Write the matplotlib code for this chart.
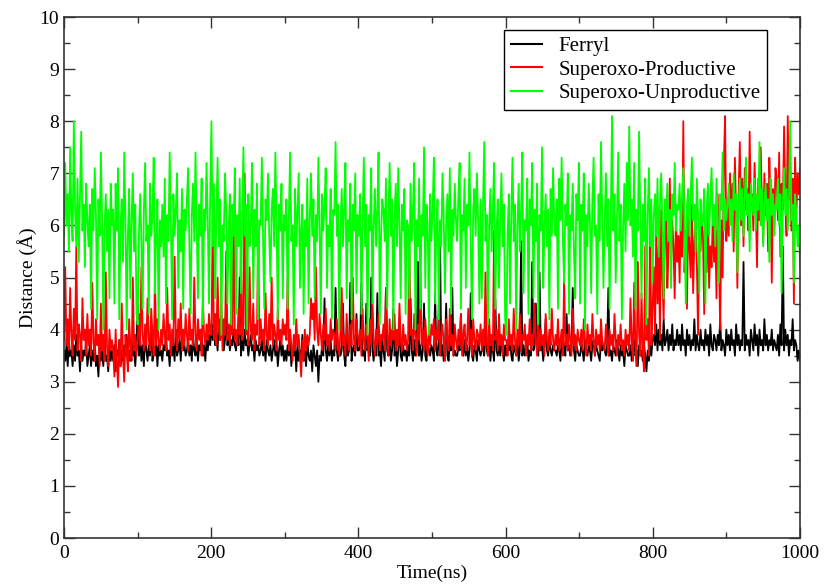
import numpy as np
import matplotlib
matplotlib.use("Agg")
import matplotlib.pyplot as plt
from matplotlib.ticker import MultipleLocator

plt.rcParams["font.family"] = ["Liberation Serif", "DejaVu Serif"]

# distance traces, 600 samples over 0-1000 ns
ferryl = [
    3.6, 3.4, 3.7, 3.3, 3.8, 3.5, 3.6, 3.3, 3.7, 3.4, 3.9, 3.5, 3.6, 3.2, 3.7, 3.4, 3.6, 3.5, 3.8, 3.3,
    3.5, 3.7, 3.3, 3.6, 3.4, 3.8, 3.3, 3.5, 3.1, 3.7, 3.4, 3.6, 3.3, 3.9, 3.4, 3.5, 3.2, 3.7, 3.4, 3.6,
    3.4, 3.7, 3.2, 3.6, 3.5, 3.8, 3.3, 3.6, 3.4, 3.7, 3.5, 3.9, 3.3, 3.6, 3.4, 3.8, 3.5, 3.6, 3.3, 3.7,
    4.5, 3.5, 3.8, 3.4, 3.7, 3.3, 4.0, 3.6, 3.4, 3.7, 3.5, 4.1, 3.4, 3.6, 3.5, 3.8, 3.3, 3.7, 3.5, 3.6,
    3.4, 3.7, 3.6, 3.9, 3.5, 3.6, 3.3, 3.8, 3.5, 3.7, 3.4, 4.0, 3.5, 3.6, 3.8, 3.4, 3.9, 3.6, 3.7, 3.5,
    3.6, 3.8, 3.5, 3.7, 3.4, 3.9, 3.6, 3.5, 3.8, 3.4, 3.7, 3.6, 4.0, 3.5, 3.7, 3.4, 3.8, 3.6, 3.9, 3.7,
    4.1, 3.8, 4.3, 3.7, 3.9, 3.6, 4.2, 3.8, 3.9, 4.0, 3.6, 3.8, 4.5, 3.7, 3.9, 3.6, 3.8, 3.7, 4.0, 3.7,
    3.6, 3.9, 3.7, 5.0, 3.5, 3.8, 3.6, 4.0, 3.7, 3.8, 3.5, 3.7, 3.9, 3.6, 3.7, 3.4, 3.8, 3.6, 3.7, 3.5,
    3.6, 3.8, 3.5, 3.7, 3.4, 3.8, 3.6, 3.5, 3.7, 3.4, 3.6, 3.8, 3.5, 3.7, 3.3, 3.6, 3.8, 3.5, 3.7, 3.4,
    3.6, 3.4, 3.7, 3.5, 3.8, 3.3, 3.6, 3.5, 3.7, 3.2, 3.7, 3.4, 3.6, 3.5, 3.9, 3.4, 3.6, 3.3, 3.8, 3.5,
    3.4, 3.6, 3.2, 3.7, 3.5, 3.3, 3.6, 3.0, 3.5, 3.4, 3.7, 3.5, 4.6, 3.6, 3.4, 3.7, 3.5, 3.8, 3.4, 3.6,
    3.5, 4.8, 3.6, 3.4, 3.7, 3.5, 3.6, 4.5, 3.5, 3.3, 3.8, 3.5, 3.6, 4.9, 3.4, 3.6, 3.7, 3.5, 4.3, 3.6,
    3.6, 3.7, 4.9, 3.5, 3.6, 3.4, 4.5, 3.6, 3.8, 3.5, 5.0, 3.6, 3.4, 3.7, 3.5, 4.7, 3.5, 3.6, 3.3, 3.8,
    3.6, 3.4, 4.8, 3.6, 3.5, 3.8, 3.4, 3.6, 4.4, 3.5, 3.7, 3.3, 3.6, 4.2, 3.5, 3.4, 3.7, 3.5, 3.6, 3.4,
    3.7, 3.5, 4.6, 3.6, 3.4, 3.8, 3.5, 3.6, 5.3, 3.5, 3.7, 3.4, 3.6, 4.5, 3.5, 3.4, 3.8, 3.6, 3.5, 3.7,
    3.6, 3.4, 4.7, 3.6, 3.5, 3.8, 5.8, 3.5, 3.7, 3.4, 3.6, 4.5, 3.5, 3.4, 3.8, 3.6, 4.8, 3.5, 3.6, 3.5,
    3.5, 3.7, 3.6, 4.3, 3.6, 3.5, 3.8, 3.5, 3.7, 3.4, 3.6, 4.7, 3.5, 3.4, 3.7, 3.6, 3.4, 3.8, 3.6, 3.5,
    3.6, 3.7, 3.5, 4.4, 3.6, 3.5, 3.8, 3.4, 3.7, 3.6, 3.4, 4.6, 3.6, 3.5, 3.7, 3.5, 3.8, 3.6, 3.4, 3.7,
    3.5, 3.7, 3.6, 3.9, 3.5, 3.4, 3.7, 3.6, 3.5, 3.8, 3.4, 3.6, 5.7, 3.5, 3.7, 3.5, 3.6, 3.8, 3.4, 3.6,
    3.5, 5.3, 3.6, 3.7, 4.5, 3.6, 3.5, 5.1, 3.6, 3.7, 3.4, 3.7, 4.2, 3.6, 3.5, 3.8, 3.6, 3.5, 3.7, 3.6,
    3.6, 3.5, 3.7, 3.6, 3.4, 3.8, 3.6, 3.7, 3.5, 4.3, 3.6, 3.7, 3.5, 3.6, 4.8, 3.6, 3.4, 3.7, 3.6, 3.5,
    3.5, 3.7, 3.6, 3.4, 3.8, 3.6, 3.5, 3.7, 3.6, 3.4, 3.7, 3.8, 3.5, 3.7, 3.6, 3.5, 3.4, 3.8, 3.6, 3.7,
    3.6, 3.5, 3.7, 4.8, 3.5, 3.6, 3.4, 3.7, 3.6, 3.5, 3.8, 3.6, 3.4, 3.7, 3.5, 3.6, 3.3, 3.7, 3.6, 3.5,
    3.5, 3.7, 3.4, 3.6, 3.8, 3.5, 3.6, 3.3, 3.7, 3.5, 3.6, 3.4, 3.7, 3.5, 3.2, 3.6, 3.4, 3.7, 3.5, 3.8,
    3.9, 3.7, 4.1, 3.6, 4.0, 3.7, 3.9, 3.6, 4.2, 3.7, 3.8, 4.0, 3.6, 3.9, 3.7, 4.1, 3.6, 3.8, 3.7, 4.0,
    3.7, 3.9, 3.6, 4.1, 3.7, 3.8, 3.5, 4.0, 3.7, 3.9, 3.6, 3.8, 3.7, 4.2, 3.6, 3.9, 3.7, 3.6, 4.0, 3.7,
    3.8, 3.6, 4.0, 3.7, 3.9, 3.5, 4.1, 3.7, 3.6, 3.9, 3.8, 3.6, 3.9, 3.7, 4.2, 3.6, 3.8, 3.7, 3.5, 4.0,
    3.7, 3.9, 3.6, 4.0, 3.7, 3.8, 3.5, 4.1, 3.7, 3.9, 3.6, 3.8, 3.7, 5.3, 3.6, 3.9, 3.7, 3.8, 3.5, 4.0,
    3.8, 3.6, 4.1, 3.7, 3.9, 3.5, 4.0, 3.7, 3.8, 3.6, 4.2, 3.7, 3.9, 3.6, 3.8, 3.7, 4.0, 3.6, 3.8, 3.7,
    3.6, 3.9, 3.5, 4.1, 3.7, 5.6, 3.6, 4.0, 3.7, 3.9, 3.5, 3.8, 3.7, 4.2, 3.6, 3.8, 3.7, 3.4, 3.6, 3.4,
]

productive = [
    3.8, 5.2, 3.7, 4.2, 3.6, 4.8, 3.9, 3.5, 4.4, 3.8, 5.6, 3.6, 4.1, 3.9, 3.4, 4.6, 3.8, 4.0, 3.5, 4.3,
    3.7, 4.0, 3.5, 4.9, 3.8, 3.4, 4.2, 3.7, 3.9, 3.3, 4.5, 3.6, 3.9, 3.4, 5.1, 3.7, 3.3, 4.0, 3.6, 3.8,
    3.6, 3.1, 4.0, 3.4, 2.9, 3.8, 3.3, 4.5, 3.5, 3.0, 3.9, 3.6, 3.2, 4.2, 3.7, 3.4, 5.0, 3.6, 3.9, 3.5,
    3.8, 4.3, 3.7, 5.2, 3.9, 3.6, 4.1, 3.7, 4.6, 3.8, 3.6, 4.4, 3.9, 3.5, 5.0, 3.7, 4.2, 3.8, 3.6, 4.0,
    3.7, 4.3, 3.9, 3.6, 4.8, 3.8, 4.1, 3.5, 4.0, 3.7, 5.4, 3.9, 3.6, 4.2, 3.8, 4.5, 3.6, 4.0, 3.7, 4.3,
    3.9, 3.6, 4.4, 3.8, 4.0, 3.7, 5.0, 3.9, 3.6, 4.2, 3.8, 4.0, 3.5, 4.6, 3.9, 3.7, 4.1, 3.8, 4.3, 3.9,
    3.9, 6.1, 3.8, 4.3, 3.7, 5.0, 4.0, 3.8, 4.6, 3.6, 4.2, 3.9, 5.5, 3.8, 4.1, 3.7, 4.4, 3.9, 6.4, 3.8,
    4.0, 3.7, 4.4, 3.9, 5.6, 3.8, 4.1, 7.0, 3.9, 4.3, 3.7, 5.2, 4.0, 3.8, 4.5, 3.6, 4.1, 3.9, 5.8, 3.7,
    4.2, 3.8, 4.0, 3.6, 4.7, 3.9, 3.7, 4.3, 3.8, 5.0, 3.7, 4.1, 3.9, 3.6, 4.4, 3.8, 4.0, 3.7, 4.2, 3.9,
    4.1, 3.8, 5.0, 3.6, 4.0, 3.7, 3.4, 3.9, 3.6, 4.2, 3.7, 3.9, 3.5, 3.1, 3.8, 3.4, 4.0, 3.6, 3.9, 3.7,
    3.9, 4.6, 4.2, 4.5, 3.8, 5.2, 4.0, 3.7, 4.3, 3.9, 3.6, 4.1, 3.8, 4.4, 3.7, 3.9, 3.6, 4.2, 3.8, 4.0,
    3.9, 3.6, 4.2, 3.8, 3.5, 4.0, 4.8, 3.7, 3.9, 3.5, 4.3, 3.8, 3.6, 4.1, 3.7, 5.0, 3.8, 3.6, 4.2, 3.9,
    3.7, 4.0, 3.5, 4.4, 3.8, 3.6, 4.1, 3.9, 3.4, 4.2, 3.7, 4.6, 3.8, 3.5, 4.0, 3.7, 4.3, 3.6, 3.9, 3.8,
    4.1, 3.6, 4.8, 3.9, 3.5, 4.2, 3.7, 4.0, 3.8, 4.3, 3.6, 4.0, 3.7, 4.5, 3.8, 3.6, 4.1, 3.7, 3.9, 3.6,
    3.8, 5.6, 3.9, 4.0, 3.6, 4.3, 3.9, 3.5, 4.1, 3.8, 5.1, 3.7, 4.0, 3.6, 4.2, 3.8, 3.5, 4.0, 3.7, 4.1,
    3.9, 4.2, 3.6, 4.0, 3.8, 4.5, 3.5, 3.9, 4.1, 3.7, 3.4, 4.2, 3.8, 3.6, 4.4, 3.7, 3.9, 3.5, 4.1, 3.8,
    3.6, 4.0, 3.7, 4.3, 3.5, 3.9, 4.1, 3.6, 3.8, 4.4, 3.7, 4.0, 3.5, 4.2, 3.8, 3.6, 4.0, 3.9, 3.7, 4.1,
    3.6, 4.0, 3.7, 5.1, 3.8, 3.5, 4.2, 3.7, 3.9, 3.6, 5.9, 3.8, 4.0, 3.6, 4.3, 3.7, 3.9, 3.5, 4.1, 3.8,
    3.8, 3.5, 4.2, 3.7, 3.9, 3.6, 4.4, 3.8, 3.5, 4.0, 3.7, 4.3, 3.6, 3.9, 3.8, 4.1, 3.5, 3.9, 3.7, 4.2,
    3.6, 3.9, 3.7, 4.5, 3.8, 3.5, 4.1, 3.6, 4.0, 3.7, 3.9, 3.5, 4.3, 3.8, 3.6, 4.0, 3.7, 4.4, 3.8, 3.6,
    3.9, 3.7, 4.2, 3.6, 3.8, 4.0, 3.5, 5.0, 3.7, 3.9, 3.6, 4.1, 3.8, 3.5, 4.4, 3.7, 3.9, 3.6, 4.0, 3.8,
    3.7, 4.0, 3.6, 4.2, 3.8, 3.5, 4.1, 3.7, 3.9, 3.6, 4.3, 3.8, 3.5, 4.0, 3.7, 3.9, 3.6, 4.2, 3.8, 3.7,
    3.6, 4.1, 3.8, 3.5, 4.0, 3.7, 3.9, 3.6, 4.3, 3.8, 3.5, 3.9, 3.7, 4.1, 3.6, 3.8, 3.5, 4.0, 3.7, 3.9,
    3.6, 4.6, 3.8, 3.4, 4.9, 3.7, 3.3, 5.3, 3.9, 3.5, 4.7, 3.6, 3.2, 5.6, 3.8, 4.2, 3.5, 6.1, 3.7, 4.4,
    5.2, 3.9, 6.0, 4.5, 5.6, 3.8, 6.3, 5.0, 4.2, 5.8, 6.5, 4.8, 5.5, 6.9, 5.2, 6.1, 5.6, 4.6, 6.2, 5.3,
    5.8, 4.9, 6.3, 5.4, 8.0, 5.1, 5.9, 4.4, 6.2, 5.6, 5.0, 6.4, 4.7, 5.7, 6.1, 5.3, 3.9, 5.9, 5.5, 6.2,
    5.8, 4.3, 6.0, 5.1, 6.4, 4.8, 5.6, 5.2, 6.2, 5.3, 5.9, 4.6, 6.6, 5.4, 4.0, 6.1, 5.0, 7.2, 8.1, 5.7,
    6.4, 5.8, 7.0, 6.1, 6.8, 5.5, 7.3, 6.2, 4.8, 6.6, 7.6, 6.0, 6.9, 5.6, 7.1, 6.3, 6.7, 5.9, 7.8, 6.4,
    6.6, 5.9, 7.2, 6.3, 5.2, 6.9, 6.1, 7.5, 6.4, 5.7, 7.0, 6.2, 6.8, 5.5, 7.3, 6.5, 4.9, 6.7, 6.0, 7.1,
    6.9, 6.1, 7.4, 5.4, 6.8, 6.3, 7.9, 6.6, 5.8, 8.1, 6.5, 7.2, 5.9, 6.9, 4.5, 7.3, 6.2, 7.0, 6.6, 7.1,
]

unproductive = [
    5.8, 7.2, 6.0, 6.6, 5.5, 7.5, 6.2, 5.7, 8.0, 6.3, 5.6, 6.9, 5.3, 6.5, 7.8, 5.9, 6.4, 5.2, 6.8, 6.1,
    5.6, 6.4, 4.4, 6.7, 5.9, 7.1, 6.2, 4.2, 6.5, 5.8, 7.4, 6.1, 4.0, 6.0, 6.6, 5.5, 6.3, 4.6, 6.8, 6.0,
    6.3, 4.5, 6.8, 5.9, 7.1, 4.2, 6.0, 6.5, 5.3, 7.4, 6.2, 4.0, 5.8, 6.7, 4.6, 6.1, 7.0, 5.5, 6.4, 4.3,
    4.1, 5.9, 6.6, 5.7, 4.4, 6.3, 7.2, 5.7, 6.0, 4.3, 6.8, 5.8, 6.2, 7.3, 4.7, 5.8, 6.5, 4.0, 6.1, 5.6,
    6.4, 5.4, 6.9, 4.5, 6.2, 5.7, 7.4, 6.0, 4.2, 6.6, 5.8, 6.3, 7.0, 4.8, 6.1, 5.5, 6.7, 4.4, 6.3, 5.9,
    6.5, 7.1, 5.6, 4.3, 6.2, 6.8, 5.7, 7.4, 6.0, 4.6, 6.4, 5.8, 6.9, 4.1, 6.3, 5.9, 7.2, 6.1, 4.5, 6.6,
    8.0, 5.6, 6.8, 4.6, 6.2, 7.3, 5.6, 6.5, 3.9, 6.0, 5.7, 7.0, 6.3, 4.5, 5.9, 6.6, 4.1, 6.4, 5.8, 7.1,
    4.3, 6.2, 5.6, 6.9, 4.7, 6.1, 7.5, 5.8, 6.4, 4.0, 6.6, 5.6, 6.0, 7.2, 4.6, 6.3, 5.6, 6.8, 4.2, 6.1,
    6.0, 7.3, 5.7, 4.4, 6.5, 6.1, 7.0, 5.8, 4.9, 6.3, 6.7, 5.6, 7.4, 6.0, 4.2, 6.4, 5.9, 6.8, 4.6, 6.2,
    5.9, 6.5, 4.4, 6.2, 7.4, 5.7, 6.0, 4.1, 6.7, 5.6, 6.3, 7.0, 4.8, 5.9, 6.4, 4.3, 6.1, 5.6, 6.9, 4.5,
    6.1, 7.0, 5.8, 6.5, 4.6, 6.2, 5.7, 7.3, 6.0, 4.3, 6.6, 5.9, 6.4, 7.1, 4.8, 6.0, 5.6, 6.7, 4.2, 6.3,
    6.2, 7.6, 5.8, 6.4, 4.0, 6.0, 6.7, 5.6, 6.3, 7.2, 4.6, 6.1, 5.7, 6.8, 4.2, 6.4, 5.9, 7.0, 4.7, 6.2,
    5.8, 6.6, 4.3, 6.1, 7.3, 5.6, 6.4, 3.9, 6.2, 5.9, 7.1, 4.5, 6.0, 6.7, 5.6, 6.3, 7.4, 4.1, 5.8, 6.5,
    6.3, 5.7, 6.9, 4.4, 6.1, 7.2, 5.8, 6.5, 4.0, 6.2, 6.8, 5.6, 7.1, 6.0, 4.6, 6.4, 5.9, 6.7, 4.3, 6.1,
    6.0, 4.6, 6.8, 5.7, 6.3, 7.2, 4.0, 6.1, 5.6, 6.9, 4.4, 6.2, 5.8, 7.5, 4.8, 6.4, 6.0, 3.9, 6.6, 5.7,
    6.3, 7.3, 4.5, 5.9, 6.5, 4.2, 6.1, 5.6, 7.0, 6.2, 4.7, 6.0, 6.6, 5.5, 7.1, 4.3, 6.3, 5.8, 6.8, 6.1,
    5.7, 6.6, 7.2, 4.4, 6.2, 5.9, 6.9, 4.8, 6.4, 6.0, 7.4, 5.6, 4.2, 6.3, 6.7, 5.8, 7.0, 6.1, 4.5, 6.5,
    4.6, 6.4, 7.6, 5.7, 6.2, 4.1, 6.0, 6.7, 5.5, 6.3, 7.2, 4.4, 5.9, 6.5, 4.8, 6.1, 7.0, 5.6, 6.4, 4.2,
    3.9, 5.8, 6.6, 4.5, 6.2, 7.3, 5.7, 6.4, 4.0, 6.0, 6.8, 5.5, 6.3, 7.4, 4.7, 6.1, 5.9, 6.9, 4.3, 6.5,
    6.0, 7.2, 4.6, 6.3, 5.7, 6.8, 4.1, 6.2, 5.9, 7.5, 4.8, 6.0, 6.6, 5.6, 6.3, 4.2, 6.7, 5.8, 7.1, 6.1,
    5.8, 6.5, 4.4, 6.9, 6.1, 7.3, 5.7, 4.9, 6.4, 6.0, 7.0, 4.3, 6.2, 5.9, 6.8, 5.5, 4.6, 6.6, 6.1, 7.2,
    4.5, 6.4, 5.9, 7.0, 4.0, 6.2, 5.6, 6.8, 6.1, 4.7, 6.5, 7.3, 5.8, 6.0, 4.3, 6.6, 5.7, 7.6, 6.2, 4.8,
    6.1, 7.0, 5.6, 6.5, 4.4, 6.3, 8.1, 5.9, 6.6, 4.9, 6.2, 7.4, 5.7, 6.4, 4.2, 6.0, 6.8, 5.5, 7.2, 6.1,
    7.9, 6.0, 6.5, 5.4, 7.2, 4.4, 6.3, 5.9, 7.8, 6.1, 4.6, 6.4, 5.7, 6.9, 4.1, 6.2, 7.1, 5.6, 6.5, 4.9,
    6.2, 6.6, 5.8, 6.9, 5.4, 6.4, 7.0, 6.0, 4.6, 6.5, 6.1, 6.8, 5.7, 6.3, 4.8, 6.6, 6.2, 7.2, 5.9, 6.4,
    6.3, 6.8, 5.9, 6.5, 7.1, 6.0, 4.5, 6.4, 6.7, 5.8, 6.6, 7.3, 6.1, 6.4, 5.5, 6.9, 6.2, 4.7, 6.5, 6.0,
    6.1, 6.7, 4.5, 6.3, 6.8, 5.8, 6.5, 7.1, 6.0, 6.4, 5.6, 6.9, 6.2, 4.9, 6.6, 6.3, 7.4, 5.9, 6.5, 6.1,
    6.4, 6.8, 6.0, 6.5, 5.7, 7.0, 6.3, 6.6, 5.1, 6.4, 6.9, 6.1, 6.7, 5.8, 6.5, 7.3, 6.2, 6.6, 5.5, 6.8,
    6.5, 6.2, 6.9, 5.9, 6.6, 6.3, 7.6, 6.0, 6.7, 5.6, 6.4, 6.8, 6.1, 6.5, 5.3, 6.9, 6.2, 6.6, 5.8, 6.4,
    6.3, 6.9, 6.0, 6.6, 4.7, 6.4, 7.1, 6.2, 6.7, 5.9, 6.5, 8.0, 6.1, 6.4, 4.9, 6.6, 6.2, 5.6, 6.0, 5.2,
]

time_ns = np.linspace(0, 1000, len(ferryl))

fig = plt.figure(figsize=(8.27, 5.86), dpi=100)
ax = fig.add_axes([0.0774, 0.0819, 0.89, 0.889])

ax.plot(time_ns, ferryl, color="black", lw=1.3, label="Ferryl")
ax.plot(time_ns, productive, color="#ff0000", lw=1.3, label="Superoxo-Productive")
ax.plot(time_ns, unproductive, color="#00ff00", lw=1.3, label="Superoxo-Unproductive")

ax.set_xlim(0, 1000)
ax.set_ylim(0, 10)
ax.xaxis.set_major_locator(MultipleLocator(200))
ax.xaxis.set_minor_locator(MultipleLocator(100))
ax.yaxis.set_major_locator(MultipleLocator(1))
ax.yaxis.set_minor_locator(MultipleLocator(0.5))
ax.tick_params(which="both", direction="in", top=True, right=True,
               labelsize=14, width=1.0, color="#333333")
ax.tick_params(which="major", length=8)
ax.tick_params(which="minor", length=4)
ax.tick_params(axis="x", pad=5)
for s in ax.spines.values():
    s.set_linewidth(1.2)
    s.set_color("#333333")

ax.set_xlabel("Time(ns)", fontsize=14, labelpad=2)
ax.set_ylabel("Distance (Å)", fontsize=14, labelpad=2)

leg = ax.legend(loc="upper right", bbox_to_anchor=(0.955, 0.975), fontsize=15,
                frameon=True, fancybox=False, edgecolor="black", framealpha=1,
                handlelength=1.5, borderpad=0.3, labelspacing=0.2, borderaxespad=0)
leg.get_frame().set_linewidth(1.0)
for h in leg.get_lines():
    h.set_linewidth(1.5)

fig.savefig("out.png", dpi=100)
